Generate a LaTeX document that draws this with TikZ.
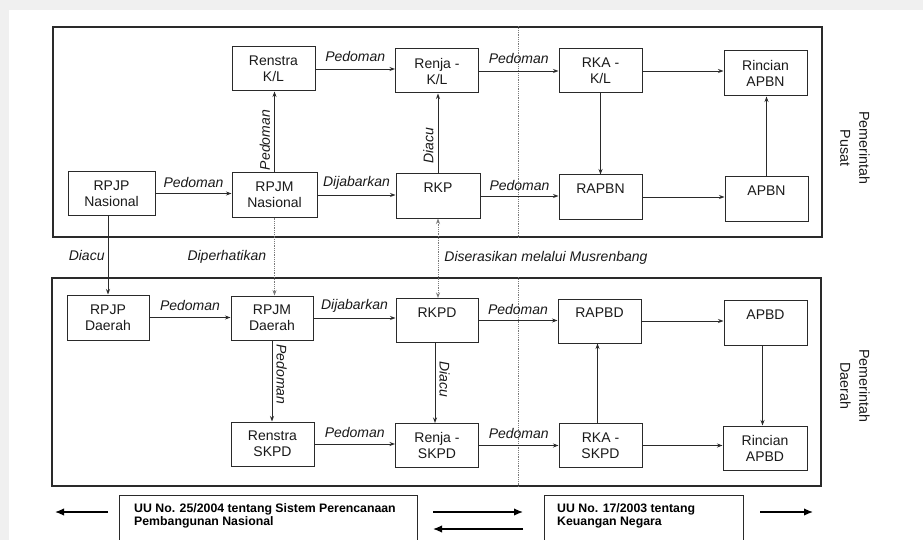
\documentclass[tikz,border=0pt]{standalone}
\usepackage{fontspec}
\setmainfont{Liberation Sans}
\usetikzlibrary{arrows.meta}
\definecolor{inkc}{HTML}{2A2A2A}
\definecolor{txtc}{HTML}{1A1A1A}
\definecolor{dotc}{HTML}{7A7A7A}
\definecolor{bgc}{HTML}{F0F0F0}
\begin{document}
\begin{tikzpicture}[x=1pt,y=-1pt,
  frame/.style={draw=inkc, line width=1.1pt, rectangle, inner sep=0pt},
  box/.style={draw=inkc, line width=1pt, rectangle, minimum width=83pt, minimum height=44pt,
    inner sep=0pt, align=center, text=txtc, font=\fontsize{14}{16}\selectfont},
  arr/.style={draw=inkc, line width=0.85pt, -{Stealth[length=5.5pt,width=4pt]}},
  dotarr/.style={draw=dotc, line width=0.8pt, densely dotted, -{Stealth[length=5.5pt,width=4pt]}},
  dotboth/.style={draw=dotc, line width=0.8pt, densely dotted, {Stealth[length=5.5pt,width=4pt]}-{Stealth[length=5.5pt,width=4pt]}},
  divline/.style={draw=dotc, line width=0.8pt, densely dotted},
  lbl/.style={font=\fontsize{14}{16}\selectfont\itshape, text=txtc, inner sep=2pt},
  side/.style={font=\fontsize{14.3}{19}\selectfont, text=txtc, align=center, rotate=-90, inner sep=0pt},
  lawtext/.style={font=\fontsize{12.3}{13}\selectfont\bfseries, text=black, align=left, inner sep=0pt, anchor=north west},
  lawbox/.style={draw=inkc, line width=0.8pt},
  bigarr/.style={draw=black, line width=1.4pt, -{Latex[length=9pt,width=7.5pt]}}
]
\useasboundingbox (0,0) rectangle (923,540);
\fill[bgc] (0,0) rectangle (923,540);
\fill[white] (9,10) rectangle (923,540);

% region frames
\node[frame, minimum width=769pt, minimum height=210pt] (pusat) at (437.5,132) {};
\node[frame, minimum width=769pt, minimum height=208pt] (daerah) at (436.5,382) {};
\coordinate (divx) at (518,0);
\draw[divline] (pusat.north -| divx) -- (pusat.south -| divx);
\draw[divline] (daerah.north -| divx) -- (daerah.south -| divx);

% top boxes
\node[box] (renstrakl) at (273.5,69) {Renstra\\K/L};
\node[box] (renjakl) at (437,71) {Renja -\\K/L};
\node[box] (rkakl) at (600.5,71) {RKA -\\K/L};
\node[box, minimum height=45pt] (rincianapbn) at (765.5,73.5) {Rincian\\APBN};
\node[box, minimum width=87pt, minimum height=43pt] (rpjpn) at (111.5,193.5) {RPJP\\Nasional};
\node[box, minimum width=85pt] (rpjmn) at (274.5,195) {RPJM\\Nasional};
\node[box, minimum width=84pt] (rkp) at (438,196) {RKP\\\phantom{X}};
\node[box] (rapbn) at (600.5,197) {RAPBN\\\phantom{X}};
\node[box] (apbn) at (766.5,199) {APBN\\\phantom{X}};

% bottom boxes
\node[box, minimum width=82pt, minimum height=45pt] (rpjpd) at (108,317.5) {RPJP\\Daerah};
\node[box, minimum width=82pt] (rpjmd) at (272,318) {RPJM\\Daerah};
\node[box, minimum width=82pt] (rkpd) at (437,320.5) {RKPD\\\phantom{X}};
\node[box] (rapbd) at (599.5,321) {RAPBD\\\phantom{X}};
\node[box, minimum height=45pt] (apbd) at (765.5,322.5) {APBD\\\phantom{X}};
\node[box] (renstraskpd) at (272.5,444) {Renstra\\SKPD};
\node[box] (renjaskpd) at (437,445.5) {Renja -\\SKPD};
\node[box] (rkaskpd) at (600.5,445.5) {RKA -\\SKPD};
\node[box, minimum width=84pt] (rincianapbd) at (765,448) {Rincian\\APBD};

% side labels
\node[side] (lpusat) at (855,148) {Pemerintah\\Pusat};
\node[side] (ldaerah) at (855,386) {Pemerintah\\Daerah};

% top connectors
\draw[arr] (rpjpn.east) -- (rpjpn.east -| rpjmn.west) node[lbl, midway, above=3pt] {Pedoman};
\draw[arr] (rpjmn.east) -- (rpjmn.east -| rkp.west) node[lbl, midway, above=3pt] {Dijabarkan};
\draw[arr] (rkp.east) -- (rkp.east -| rapbn.west) node[lbl, midway, above=3pt] {Pedoman};
\draw[arr] (rapbn.east) -- (rapbn.east -| apbn.west);
\draw[arr] (renstrakl.east) -- (renstrakl.east -| renjakl.west) node[lbl, midway, above=5pt] {Pedoman};
\draw[arr] (renjakl.east) -- (renjakl.east -| rkakl.west) node[lbl, midway, above=5pt] {Pedoman};
\draw[arr] (rkakl.east) -- (rkakl.east -| rincianapbn.west);
\draw[arr] (rpjmn.north) -- (rpjmn.north |- renstrakl.south)
  node[lbl, pos=0.4, rotate=90, anchor=south, inner sep=4pt] {Pedoman};
\draw[arr] (rkp.north) -- (rkp.north |- renjakl.south)
  node[lbl, pos=0.35, rotate=90, anchor=south, inner sep=4pt] {Diacu};
\draw[arr] (rkakl.south) -- (rkakl.south |- rapbn.north);
\draw[arr] (apbn.north) -- (apbn.north |- rincianapbn.south);

% between levels
\draw[arr] (rpjpd.north |- rpjpn.south) -- (rpjpd.north) node[lbl, midway, left=1pt] {Diacu};
\draw[dotarr] (rpjmn.south) -- (rpjmn.south |- rpjmd.north) node[lbl, midway, left=6pt] {Diperhatikan};
\draw[dotboth] (rkp.south) -- (rkp.south |- rkpd.north) node[lbl, midway, right=4pt] {Diserasikan melalui Musrenbang};

% bottom connectors
\draw[arr] (rpjpd.east) -- (rpjpd.east -| rpjmd.west) node[lbl, midway, above=4pt] {Pedoman};
\draw[arr] (rpjmd.east) -- (rpjmd.east -| rkpd.west) node[lbl, midway, above=3pt] {Dijabarkan};
\draw[arr] (rkpd.east) -- (rkpd.east -| rapbd.west) node[lbl, midway, above=3pt] {Pedoman};
\draw[arr] (rapbd.east) -- (rapbd.east -| apbd.west);
\draw[arr] ([xshift=-3pt]apbd.south) -- ([xshift=-3pt]apbd.south |- rincianapbd.north);
\draw[arr] (rpjmd.south) -- (rpjmd.south |- renstraskpd.north)
  node[lbl, pos=0.42, rotate=-90, anchor=south, inner sep=4pt] {Pedoman};
\draw[arr] ([xshift=-2pt]rkpd.south) -- ([xshift=-2pt]rkpd.south |- renjaskpd.north)
  node[lbl, pos=0.45, rotate=-90, anchor=south, inner sep=4pt] {Diacu};
\draw[arr] (renstraskpd.east) -- (renstraskpd.east -| renjaskpd.west) node[lbl, midway, above=4pt] {Pedoman};
\draw[arr] (renjaskpd.east) -- (renjaskpd.east -| rkaskpd.west) node[lbl, midway, above=4pt] {Pedoman};
\draw[arr] ([xshift=-3pt]rkaskpd.north) -- ([xshift=-3pt]rkaskpd.north |- rapbd.south);
\draw[arr] (rkaskpd.east) -- (rkaskpd.east -| rincianapbd.west);

% law legend
\draw[lawbox] (119,545) -- (119,495) -- (417,495) -- (417,545);
\draw[lawbox] (544,545) -- (544,495) -- (743,495) -- (743,545);
\node[lawtext] (uu25) at (134,503.5) {UU No. 25/2004 tentang Sistem Perencanaan\\Pembangunan Nasional};
\node[lawtext] (uu17) at (557,503.5) {UU No. 17/2003 tentang\\Keuangan Negara};
\coordinate (la1) at (108,512); \coordinate (la2) at (55,512);
\coordinate (ma1) at (433,512); \coordinate (ma2) at (523,512);
\coordinate (mb1) at (523,529); \coordinate (mb2) at (433,529);
\coordinate (ra1) at (760,512); \coordinate (ra2) at (813,512);
\draw[bigarr] (la1) -- (la2);
\draw[bigarr] (ma1) -- (ma2);
\draw[bigarr] (mb1) -- (mb2);
\draw[bigarr] (ra1) -- (ra2);
\end{tikzpicture}
\end{document}
